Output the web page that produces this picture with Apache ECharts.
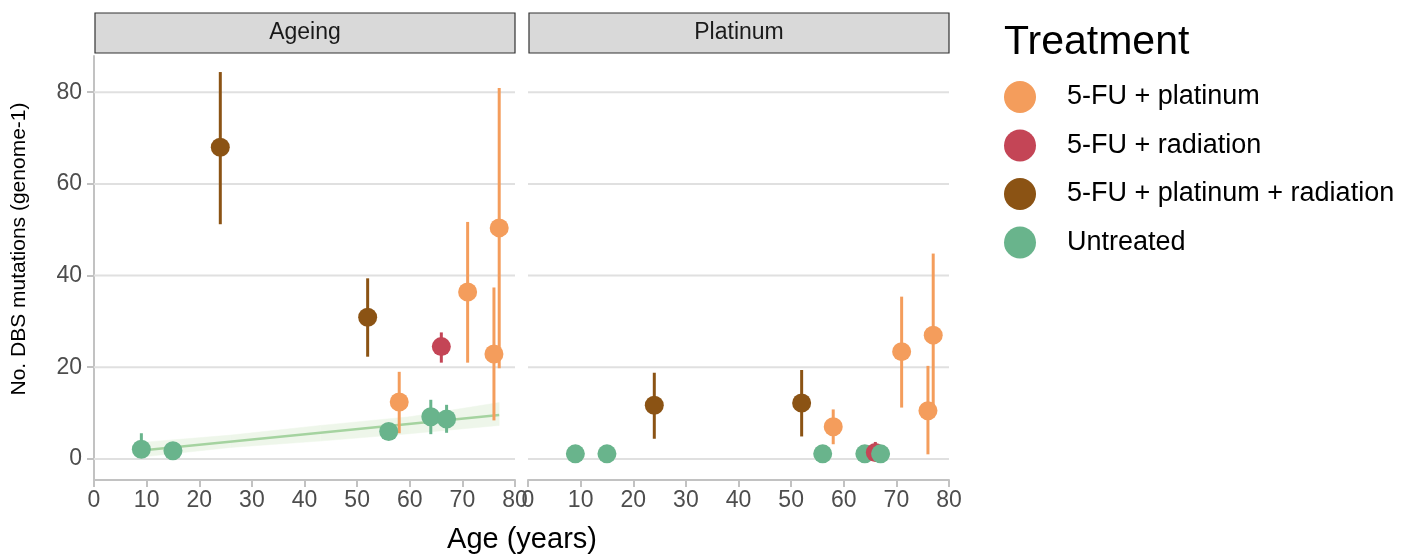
<!DOCTYPE html>
<html>
<head>
<meta charset="utf-8">
<title>DBS mutations by age</title>
<script src="https://cdn.jsdelivr.net/npm/echarts@6/dist/echarts.min.js"></script>
<style>
  html, body { margin: 0; padding: 0; background: #ffffff; }
  #chart { width: 1401px; height: 560px; }
</style>
</head>
<body>
<div id="chart"></div>
<script>
// Samples, ordered by age
const ages       = [9, 15, 24, 52, 56, 58, 64, 66, 67, 71, 76, 77];
const treatment  = ['Untreated', 'Untreated', '5-FU + platinum + radiation', '5-FU + platinum + radiation',
                    'Untreated', '5-FU + platinum', 'Untreated', '5-FU + radiation', 'Untreated',
                    '5-FU + platinum', '5-FU + platinum', '5-FU + platinum'];

// Ageing signature: estimate with interval
const ageingValue = [2.1, 1.8, 68.0, 30.9, 6.0, 12.4, 9.2, 24.5, 8.7, 36.4, 22.9, 50.4];
const ageingLow   = [0.3, 0.4, 51.2, 22.3, 4.6, 5.6, 5.4, 21.0, 5.7, 21.0, 8.4, 19.8];
const ageingHigh  = [5.6, 3.6, 84.4, 39.4, 7.4, 19.0, 12.9, 27.6, 11.8, 51.7, 37.4, 80.9];

// Platinum signature: estimate with interval
const platinumValue = [1.1, 1.1, 11.7, 12.2, 1.1, 7.0, 1.1, 1.4, 1.1, 23.4, 10.5, 27.0];
const platinumLow   = [0.2, 0.2, 4.4, 4.9, 0.2, 3.2, 0.2, 0.2, 0.2, 11.2, 1.0, 10.5];
const platinumHigh  = [2.0, 2.0, 18.8, 19.4, 2.0, 10.8, 2.0, 3.7, 2.0, 35.4, 20.3, 44.8];

// Linear fit of untreated samples in the Ageing panel, with its confidence band
const fitAges   = [9, 77];
const fitValues = [1.85, 9.6];
const bandAges  = [9, 26, 43, 60, 77];
const bandLow   = [0.4, 2.5, 3.9, 5.5, 7.3];
const bandHigh  = [3.6, 5.2, 7.3, 9.2, 12.3];

// Axis ticks
const yTicks = [0, 20, 40, 60, 80];
const xTicks = [0, 10, 20, 30, 40, 50, 60, 70, 80];

const panels = ['Ageing', 'Platinum'];
const treatments = ['5-FU + platinum', '5-FU + radiation', '5-FU + platinum + radiation', 'Untreated'];
const palette = {
  '5-FU + platinum': '#F49D5C',
  '5-FU + radiation': '#C44556',
  '5-FU + platinum + radiation': '#8B5314',
  'Untreated': '#69B48C'
};

const FONT = '"Liberation Sans", Arial, Helvetica, sans-serif';
const AXIS_GREY = '#c2c2c2';
const GRID_GREY = '#e0e0e0';

const panelLeft = [94, 528];
const panelWidth = 421;
const panelTop = 56;
const panelHeight = 424;

function gridLineSeries(idx) {
  return {
    type: 'custom',
    xAxisIndex: idx, yAxisIndex: idx,
    silent: true, z: 1,
    data: yTicks.map(v => [xTicks[0], v]),
    renderItem: function (params, api) {
      const y = api.coord([api.value(0), api.value(1)])[1];
      const cs = params.coordSys;
      return {
        type: 'line',
        shape: { x1: cs.x, y1: y, x2: cs.x + cs.width, y2: y },
        style: { stroke: GRID_GREY, lineWidth: 2 }
      };
    }
  };
}

function errorBarSeries(idx, low, high) {
  return {
    type: 'custom',
    xAxisIndex: idx, yAxisIndex: idx,
    silent: true, z: 3,
    encode: { x: 0, y: [1, 2] },
    data: ages.map((a, i) => [a, low[i], high[i]]),
    renderItem: function (params, api) {
      const p1 = api.coord([api.value(0), api.value(1)]);
      const p2 = api.coord([api.value(0), api.value(2)]);
      return {
        type: 'line',
        shape: { x1: p1[0], y1: p1[1], x2: p2[0], y2: p2[1] },
        style: { stroke: palette[treatment[params.dataIndex]], lineWidth: 3 }
      };
    }
  };
}

function pointSeries(idx, values) {
  return {
    type: 'scatter',
    xAxisIndex: idx, yAxisIndex: idx,
    silent: true, z: 4,
    symbol: 'circle', symbolSize: 19,
    data: ages.map((a, i) => ({
      value: [a, values[i]],
      itemStyle: { color: palette[treatment[i]], opacity: 1 }
    }))
  };
}

const bandSeries = {
  type: 'custom',
  xAxisIndex: 0, yAxisIndex: 0,
  silent: true, z: 2,
  encode: { x: 0, y: [1, 2] },
  data: bandAges.map((a, i) => [a, bandLow[i], bandHigh[i]]),
  renderItem: function (params, api) {
    const i = params.dataIndex;
    if (i >= bandAges.length - 1) return null;
    const pts = [
      api.coord([bandAges[i], bandLow[i]]),
      api.coord([bandAges[i + 1], bandLow[i + 1]]),
      api.coord([bandAges[i + 1], bandHigh[i + 1]]),
      api.coord([bandAges[i], bandHigh[i]])
    ];
    return {
      type: 'polygon',
      shape: { points: pts },
      style: { fill: '#eef6ea', stroke: '#eef6ea', lineWidth: 0.5 }
    };
  }
};

const fitSeries = {
  type: 'line',
  xAxisIndex: 0, yAxisIndex: 0,
  silent: true, z: 2,
  symbol: 'none',
  lineStyle: { color: '#a5d3a0', width: 2.5 },
  data: fitAges.map((a, i) => [a, fitValues[i]])
};

// Empty series so the legend carries the treatment colours
const legendSeries = treatments.map(t => ({
  name: t,
  type: 'scatter',
  xAxisIndex: 0, yAxisIndex: 0,
  data: [],
  itemStyle: { color: palette[t], opacity: 1 }
}));

const xAxes = panels.map((p, idx) => ({
  type: 'value',
  gridIndex: idx,
  min: xTicks[0], max: xTicks[xTicks.length - 1], interval: 10,
  axisLine: { show: true, onZero: false, lineStyle: { color: AXIS_GREY, width: 2 } },
  axisTick: { show: true, length: 7, lineStyle: { color: AXIS_GREY, width: 2 } },
  axisLabel: { fontSize: 23, color: '#4d4d4d', fontFamily: FONT, margin: 9,
               showMinLabel: true, showMaxLabel: true },
  splitLine: { show: false }
}));

const yAxes = panels.map((p, idx) => ({
  type: 'value',
  gridIndex: idx,
  min: -4.6, max: 87.9,
  axisLine: { show: idx === 0, onZero: false, lineStyle: { color: AXIS_GREY, width: 2 } },
  axisTick: { show: idx === 0, length: 7, customValues: yTicks, lineStyle: { color: AXIS_GREY, width: 2 } },
  axisLabel: { show: idx === 0, customValues: yTicks, fontSize: 23, color: '#4d4d4d',
               fontFamily: FONT, margin: 12 },
  splitLine: { show: false }
}));

const strips = panels.map((p, idx) => ({
  type: 'group',
  children: [
    { type: 'rect', shape: { x: panelLeft[idx] + 1, y: 13, width: 420, height: 40 },
      style: { fill: '#d9d9d9', stroke: '#333333', lineWidth: 1.2 } },
    { type: 'text', x: panelLeft[idx] + 1 + 210, y: 33,
      style: { text: p, fill: '#1a1a1a', font: '23px ' + FONT, align: 'center', verticalAlign: 'middle' } }
  ]
}));

const option = {
  animation: false,
  backgroundColor: '#ffffff',
  title: {
    text: 'Treatment', left: 999, top: 17,
    textStyle: { fontSize: 41, fontWeight: 'normal', color: '#000000', fontFamily: FONT }
  },
  legend: {
    orient: 'vertical', left: 1004, top: 81, padding: 0,
    itemWidth: 32, itemHeight: 32, itemGap: 16.5,
    icon: 'circle',
    data: treatments,
    itemStyle: { opacity: 1 },
    textStyle: { fontSize: 27, color: '#000000', fontFamily: FONT, padding: [0, 0, 0, 26] },
    selectedMode: false
  },
  grid: panels.map((p, idx) => ({
    left: panelLeft[idx], top: panelTop, width: panelWidth, height: panelHeight,
    containLabel: false
  })),
  xAxis: xAxes,
  yAxis: yAxes,
  graphic: [
    ...strips,
    { type: 'text', x: 19, y: 249, rotation: Math.PI / 2,
      style: { text: 'No. DBS mutations (genome-1)', fill: '#000000', font: '21px ' + FONT,
               align: 'center', verticalAlign: 'middle' } },
    { type: 'text', x: 522, y: 540,
      style: { text: 'Age (years)', fill: '#000000', font: '29px ' + FONT,
               align: 'center', verticalAlign: 'middle' } }
  ],
  series: [
    gridLineSeries(0),
    gridLineSeries(1),
    bandSeries,
    fitSeries,
    errorBarSeries(0, ageingLow, ageingHigh),
    errorBarSeries(1, platinumLow, platinumHigh),
    pointSeries(0, ageingValue),
    pointSeries(1, platinumValue),
    ...legendSeries
  ]
};

const chart = echarts.init(document.getElementById('chart'), null, { renderer: 'canvas' });
chart.setOption(option);
</script>
</body>
</html>
